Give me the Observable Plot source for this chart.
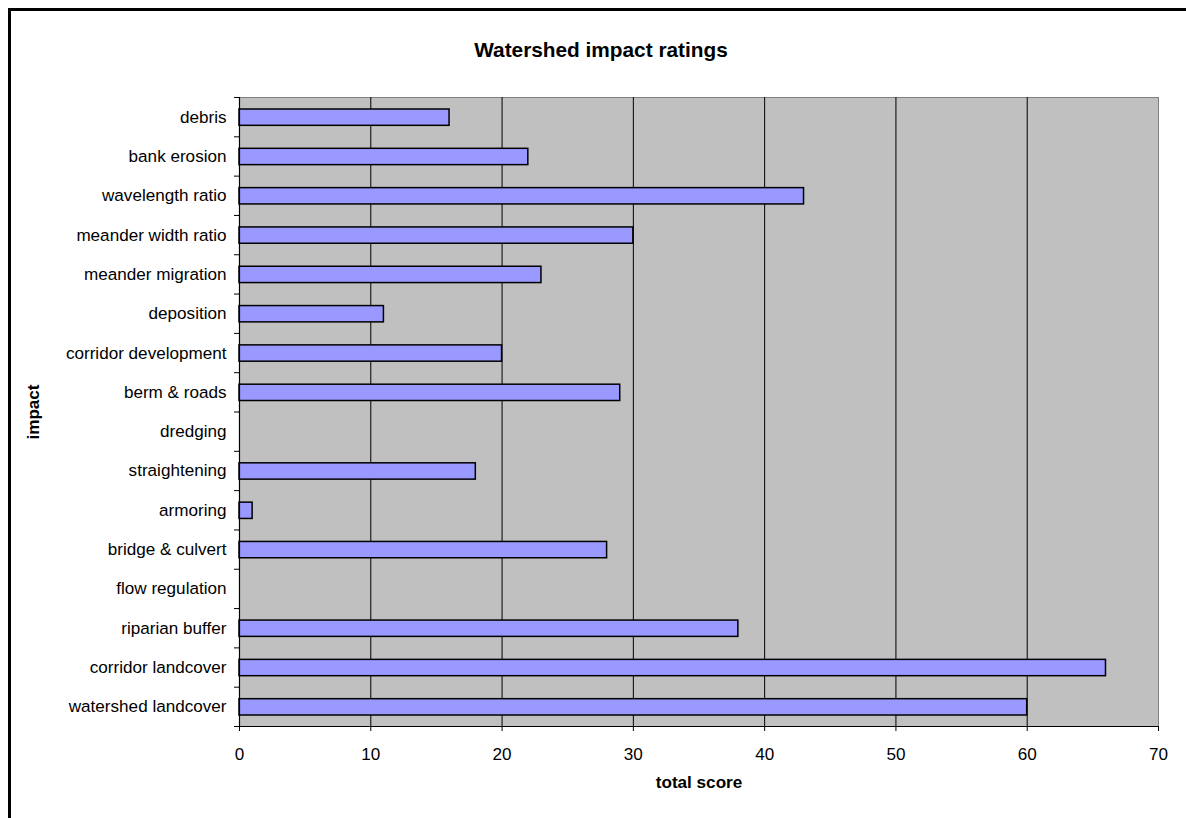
<!DOCTYPE html>
<html>
<head>
<meta charset="utf-8">
<script src="https://cdn.jsdelivr.net/npm/d3@7"></script>
<script src="https://cdn.jsdelivr.net/npm/@observablehq/plot@0.6"></script>
<style>
  html, body { margin: 0; padding: 0; background: #fff; }
  #wrap { position: relative; width: 1186px; height: 818px; overflow: hidden; font-family: "Liberation Sans", Arial, sans-serif; }
  #border { position: absolute; left: 8px; top: 8px; width: 1200px; height: 830px; border: 3px solid #000; box-sizing: border-box; }
  #title { position: absolute; left: 0; top: 38px; width: 1202px; text-align: center; font-weight: bold; font-size: 20.8px; color: #000; }
  #chart { position: absolute; left: 0; top: 0; }
  g[aria-label="x-axis label"] text, g[aria-label="y-axis label"] text { font-weight: bold; }
</style>
</head>
<body>
<div id="wrap">
  <div id="border"></div>
  <div id="chart"></div>
  <div id="title">Watershed impact ratings</div>
</div>
<script>
const categories = [
  "debris", "bank erosion", "wavelength ratio", "meander width ratio",
  "meander migration", "deposition", "corridor development", "berm & roads",
  "dredging", "straightening", "armoring", "bridge & culvert",
  "flow regulation", "riparian buffer", "corridor landcover", "watershed landcover"
];
const scores = [16, 22, 43, 30, 23, 11, 20, 29, 0, 18, 1, 28, 0, 38, 66, 60];
const xTicks = [0, 10, 20, 30, 40, 50, 60, 70];
const gridValues = [10, 20, 30, 40, 50, 60];

const n = categories.length;
const rows = categories.map((c, i) => ({cat: c, v: scores[i], i}));
const bars = rows.filter(d => d.v > 0);

const chart = Plot.plot({
  width: 1186,
  height: 818,
  marginTop: 97,
  marginBottom: 92,
  marginLeft: 239,
  marginRight: 28,
  style: {fontFamily: "'Liberation Sans', Arial, sans-serif", fontSize: "17.1px", color: "#000", background: "transparent"},
  x: {domain: [0, 70], axis: null},
  y: {domain: [0, n], reverse: true, axis: null},
  marks: [
    Plot.frame({fill: "#c0c0c0", stroke: "#808080"}),
    Plot.ruleX(gridValues, {stroke: "#000", strokeWidth: 1}),
    Plot.rect(bars, {
      x1: d => 0, x2: "v",
      y1: "i", y2: d => d.i + 1,
      insetTop: 12, insetBottom: 11,
      fill: "#9999ff", stroke: "#000", strokeWidth: 1.5
    }),
    Plot.ruleX([0], {stroke: "#000", strokeWidth: 1.2}),
    Plot.ruleY([n], {stroke: "#000", strokeWidth: 1.2}),
    Plot.axisX({
      ticks: xTicks, tickSize: 5, tickPadding: 16,
      label: "total score", labelAnchor: "center", labelArrow: "none", labelOffset: 61
    }),
    Plot.axisY({
      ticks: d3.range(n + 1), tickSize: 5, tickFormat: () => "", label: null
    }),
    Plot.axisY({
      ticks: d3.range(n).map(i => i + 0.5), tickSize: 0, tickPadding: 13,
      tickFormat: d => categories[Math.floor(d)],
      label: "impact", labelAnchor: "center", labelArrow: "none", labelOffset: 213
    })
  ]
});
document.getElementById("chart").appendChild(chart);
</script>
</body>
</html>
